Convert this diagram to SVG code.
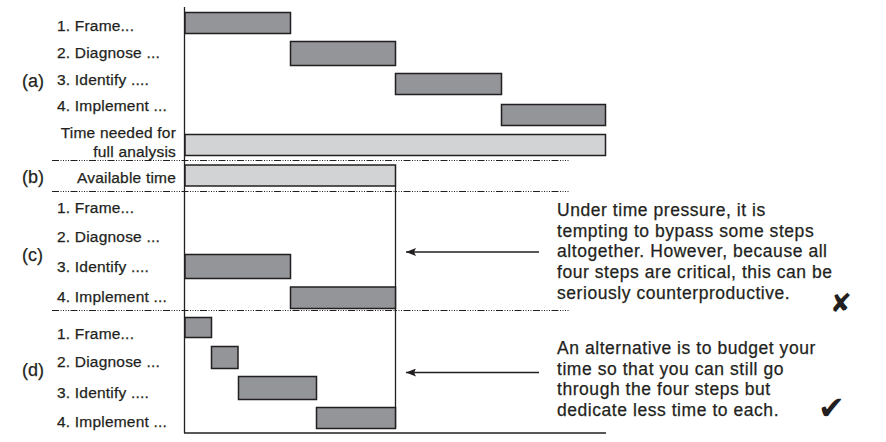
<svg xmlns="http://www.w3.org/2000/svg" width="886" height="442" viewBox="0 0 886 442">
<style>
.bar{fill:#939598;stroke:#231f20;stroke-width:1.5}
.lbar{fill:#d1d3d4;stroke:#231f20;stroke-width:1.5}
.ax{stroke:#231f20;stroke-width:1.3;fill:none}
.dash{stroke:#231f20;stroke-width:1;stroke-dasharray:7 1.5 1 1.5 1 1.5 1 1.5 1 1.5;fill:none}
.lab{font-family:"Liberation Sans",Arial,sans-serif;font-size:15.5px;fill:#231f20;letter-spacing:0.2px;stroke:#231f20;stroke-width:0.25}
.sec{font-family:"Liberation Sans",Arial,sans-serif;font-size:18px;fill:#231f20;stroke:#231f20;stroke-width:0.25}
.note{font-family:"Liberation Sans",Arial,sans-serif;font-size:17.5px;fill:#231f20;letter-spacing:0.55px;stroke:#231f20;stroke-width:0.25}
.sym{font-family:"DejaVu Sans",sans-serif;fill:#231f20}
</style>
<defs>
<marker id="ah" markerWidth="10" markerHeight="8" refX="10" refY="4" orient="auto" markerUnits="userSpaceOnUse">
<path d="M0,0 L10,4 L0,8 L2,4 Z" fill="#231f20"/>
</marker>
</defs>

<g id="axes">
<line class="ax" x1="184.5" y1="7" x2="184.5" y2="433"/>
<line class="ax" x1="184" y1="433" x2="606" y2="433"/>
<line class="ax" x1="395.5" y1="186" x2="395.5" y2="428"/>
<line class="dash" x1="52" y1="160.5" x2="569" y2="160.5"/>
<line class="dash" x1="52" y1="191.5" x2="569" y2="191.5"/>
<line class="dash" x1="52" y1="310.5" x2="569" y2="310.5"/>
</g>

<g id="section-a">
<text class="sec" x="22" y="87">(a)</text>
<text class="lab" x="57" y="31">1. Frame...</text>
<text class="lab" x="57" y="58">2. Diagnose ...</text>
<text class="lab" x="57" y="84.5">3. Identify ....</text>
<text class="lab" x="57" y="110.5">4. Implement ...</text>
<text class="lab" x="176" y="137.5" text-anchor="end">Time needed for</text>
<text class="lab" x="176" y="157" text-anchor="end">full analysis</text>
<rect class="bar" x="185" y="12.5" width="105.5" height="21"/>
<rect class="bar" x="290.5" y="41.5" width="105" height="24"/>
<rect class="bar" x="395.5" y="73.5" width="106" height="21"/>
<rect class="bar" x="501.5" y="104.5" width="104" height="21"/>
<rect class="lbar" x="185" y="134.5" width="420.5" height="21"/>
</g>

<g id="section-b">
<text class="sec" x="22" y="182.5">(b)</text>
<text class="lab" x="176" y="183" text-anchor="end">Available time</text>
<rect class="lbar" x="185" y="165" width="210.5" height="21"/>
</g>

<g id="section-c">
<text class="sec" x="22" y="260.5">(c)</text>
<text class="lab" x="57" y="212.5">1. Frame...</text>
<text class="lab" x="57" y="241.5">2. Diagnose ...</text>
<text class="lab" x="57" y="271.5">3. Identify ....</text>
<text class="lab" x="57" y="301.5">4. Implement ...</text>
<rect class="bar" x="185" y="254.5" width="105.5" height="24"/>
<rect class="bar" x="290.5" y="287" width="105" height="21.5"/>
</g>

<g id="section-d">
<text class="sec" x="22" y="375.5">(d)</text>
<text class="lab" x="57" y="338.5">1. Frame...</text>
<text class="lab" x="57" y="367">2. Diagnose ...</text>
<text class="lab" x="57" y="397.5">3. Identify ....</text>
<text class="lab" x="57" y="427">4. Implement ...</text>
<rect class="bar" x="185" y="317.5" width="26.5" height="20"/>
<rect class="bar" x="211.5" y="346.5" width="26.5" height="22"/>
<rect class="bar" x="238.5" y="376.5" width="78" height="23"/>
<rect class="bar" x="316.5" y="407.5" width="79" height="21"/>
</g>

<g id="connectors">
<line class="ax" x1="539" y1="252" x2="406" y2="252" marker-end="url(#ah)"/>
<line class="ax" x1="539" y1="372.5" x2="406" y2="372.5" marker-end="url(#ah)"/>
</g>

<g id="note-c">
<text class="note" x="557" y="216">Under time pressure, it is</text>
<text class="note" x="557" y="236.7">tempting to bypass some steps</text>
<text class="note" x="557" y="257.3">altogether. However, because all</text>
<text class="note" x="557" y="278">four steps are critical, this can be</text>
<text class="note" x="557" y="298.7">seriously counterproductive.</text>
<text class="sym" x="830" y="312" font-size="26">✘</text>
</g>

<g id="note-d">
<text class="note" x="557" y="354">An alternative is to budget your</text>
<text class="note" x="557" y="374.7">time so that you can still go</text>
<text class="note" x="557" y="395.3">through the four steps but</text>
<text class="note" x="557" y="416">dedicate less time to each.</text>
<text class="sym" x="818" y="419" font-size="32">✔</text>
</g>
</svg>
